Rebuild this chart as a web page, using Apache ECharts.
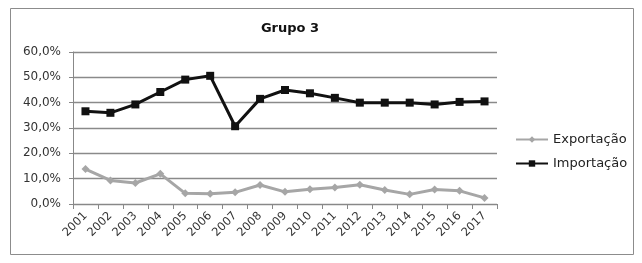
<!DOCTYPE html>
<html><head><meta charset="utf-8">
<script src="https://cdn.jsdelivr.net/npm/echarts@6/dist/echarts.min.js"></script>
<style>html,body{margin:0;padding:0;background:#fff}#c{width:642px;height:263px}</style>
</head><body><div id="c"></div>
<script>
const years = ['2001','2002','2003','2004','2005','2006','2007','2008','2009','2010','2011','2012','2013','2014','2015','2016','2017'];
const exportacao = [13.8,9.3,8.3,11.9,4.2,4.0,4.6,7.5,4.8,5.8,6.5,7.6,5.5,3.8,5.7,5.2,2.4];
const importacao = [36.6,36.0,39.3,44.2,49.1,50.6,30.7,41.5,45.0,43.7,41.9,40.0,40.0,40.0,39.3,40.3,40.5];
const FONT = "'DejaVu Sans',sans-serif";
const chart = echarts.init(document.getElementById('c'), null, {renderer:'canvas'});
chart.setOption({
  animation:false,
  backgroundColor:'#fff',
  graphic:[{type:'rect',shape:{x:10.5,y:8.5,width:623,height:246},style:{fill:'none',stroke:'#8c8c8c',lineWidth:1},silent:true}],
  title:{text:'Grupo 3',left:285,top:17,textAlign:'center',textStyle:{fontFamily:FONT,fontWeight:'bold',fontSize:13,color:'#111'}},
  legend:{
    orient:'vertical',left:510,top:127,itemGap:9,itemWidth:32,itemHeight:8,
    textStyle:{fontFamily:FONT,fontSize:13,color:'#222',lineHeight:15},
    data:['Exportação','Importação']
  },
  grid:{left:73,right:145,top:52,bottom:59,containLabel:false},
  xAxis:{
    type:'category',data:years,boundaryGap:true,
    axisLine:{lineStyle:{color:'#888',width:1}},
    axisTick:{show:true,length:5,alignWithLabel:false,lineStyle:{color:'#888'}},
    axisLabel:{rotate:45,fontFamily:FONT,fontSize:11.5,color:'#333',margin:10,interval:0}
  },
  yAxis:{
    type:'value',min:0,max:60,interval:10,
    axisLine:{show:true,lineStyle:{color:'#888',width:1}},
    axisTick:{show:true,length:4,lineStyle:{color:'#888'}},
    splitLine:{lineStyle:{color:'#8a8a8a',width:1.3}},
    axisLabel:{fontFamily:FONT,fontSize:12,color:'#333',margin:12,formatter:v=>v.toFixed(1).replace('.',',')+'%'}
  },
  series:[
    {name:'Exportação',type:'line',data:exportacao,symbol:'diamond',symbolSize:8,
     lineStyle:{color:'#a6a6a6',width:3},itemStyle:{color:'#a6a6a6'},z:3},
    {name:'Importação',type:'line',data:importacao,symbol:'rect',symbolSize:8,
     lineStyle:{color:'#111',width:3},itemStyle:{color:'#111'},z:4}
  ]
});
</script></body></html>
